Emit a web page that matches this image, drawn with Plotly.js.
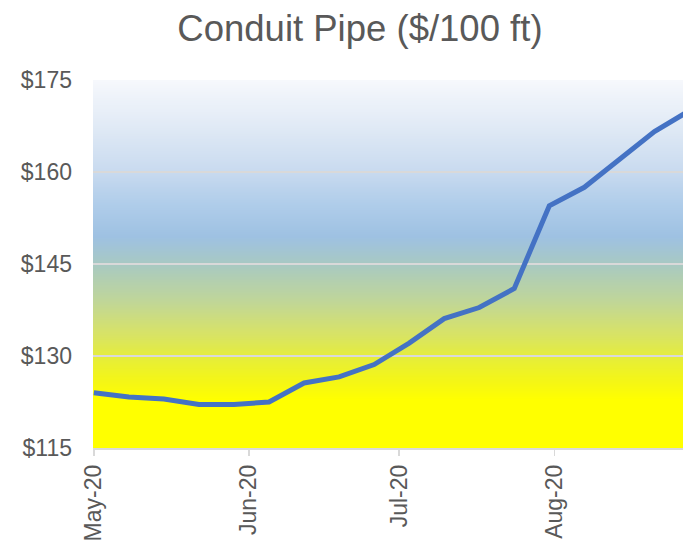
<!DOCTYPE html>
<html>
<head>
<meta charset="utf-8">
<script src="https://cdn.plot.ly/plotly-3.0.1.min.js"></script>
<style>
  html, body { margin: 0; padding: 0; background: #ffffff; }
  #chart { width: 683px; height: 542px; }
</style>
</head>
<body>
<div id="chart"></div>
<script>
// ---- data ----
const weekDates = [
  '2020-05-01','2020-05-08','2020-05-15','2020-05-22','2020-05-29',
  '2020-06-05','2020-06-12','2020-06-19','2020-06-26',
  '2020-07-03','2020-07-10','2020-07-17','2020-07-24','2020-07-31',
  '2020-08-07','2020-08-14','2020-08-21','2020-08-28'
];
const pricePer100ft = [
  124.0, 123.3, 123.0, 122.1, 122.1,
  122.5, 125.6, 126.6, 128.6,
  132.1, 136.1, 137.9, 141.0, 154.5,
  157.5, 162.0, 166.6, 170.0
];
const yTickVals = [115, 130, 145, 160, 175];
const yTickText = ['$115', '$130', '$145', '$160', '$175'];
const titleText = 'Conduit Pipe ($/100 ft)';

// ---- style ----
const xRange = ['2020-04-30 20:00', '2020-08-26 17:00'];
const yRange = [115, 175];
const gradientStops = [
  [0.000, '#ffff00'],
  [0.133, '#ffff00'],
  [0.183, '#f4f616'],
  [0.250, '#e5ed3c'],
  [0.317, '#d6e26a'],
  [0.400, '#c0d698'],
  [0.500, '#a8c9c2'],
  [0.575, '#9ec1e2'],
  [0.667, '#b0cdea'],
  [0.750, '#c8daef'],
  [0.867, '#dfe9f5'],
  [1.000, '#f6f8fc']
];

// background gradient levels (styling only)
const bgY = [];
const bgZ = [];
for (let v = 110; v <= 180; v += 0.5) { bgY.push(v); bgZ.push([v, v]); }

const textColor = '#595959';
const font = 'Liberation Sans, Arial, sans-serif';

const traces = [
  {
    type: 'heatmap',
    x: ['2020-04-01', '2020-09-30'],
    y: bgY,
    z: bgZ,
    zmin: yRange[0], zmax: yRange[1],
    colorscale: gradientStops,
    zsmooth: 'best',
    showscale: false,
    hoverinfo: 'skip',
    xaxis: 'x', yaxis: 'y'
  },
  {
    type: 'scatter',
    mode: 'lines',
    x: weekDates,
    y: pricePer100ft,
    line: { color: '#4472c4', width: 5 },
    hoverinfo: 'skip',
    xaxis: 'x2', yaxis: 'y2'
  }
];

const layout = {
  width: 683, height: 542,
  margin: { l: 93, r: 0, t: 80, b: 94 },
  paper_bgcolor: '#ffffff',
  plot_bgcolor: 'rgba(0,0,0,0)',
  showlegend: false,
  hovermode: false,
  font: { family: font, color: textColor },
  title: {
    text: titleText,
    font: { family: font, size: 36.5, color: textColor },
    xref: 'container', x: 0.527, xanchor: 'center',
    yref: 'container', y: 0.972, yanchor: 'top'
  },
  xaxis: { type: 'date', range: xRange, domain: [0, 1], anchor: 'y', visible: false, fixedrange: true },
  yaxis: { range: yRange, domain: [0, 1], anchor: 'x', visible: false, fixedrange: true },
  xaxis2: {
    type: 'date', range: xRange, domain: [0, 1], anchor: 'y2',
    dtick: 'M1', tick0: '2020-05-01', tickformat: '%b-%y', tickangle: -90,
    tickfont: { family: font, size: 23, color: textColor },
    ticks: 'outside', ticklen: 6, tickwidth: 1.5, tickcolor: '#d9d9d9',
    showline: true, linecolor: '#d9d9d9', linewidth: 1.5,
    showgrid: false, zeroline: false, fixedrange: true
  },
  yaxis2: {
    range: yRange, domain: [0, 1], anchor: 'x2',
    tickmode: 'array', tickvals: yTickVals, ticktext: yTickText,
    tickfont: { family: font, size: 23, color: textColor },
    ticks: '', ticklabelstandoff: 20,
    showgrid: true, gridcolor: '#d9d9d9', gridwidth: 2,
    showline: false, zeroline: false, fixedrange: true
  }
};

Plotly.newPlot('chart', traces, layout, { displayModeBar: false, staticPlot: true });
</script>
</body>
</html>
